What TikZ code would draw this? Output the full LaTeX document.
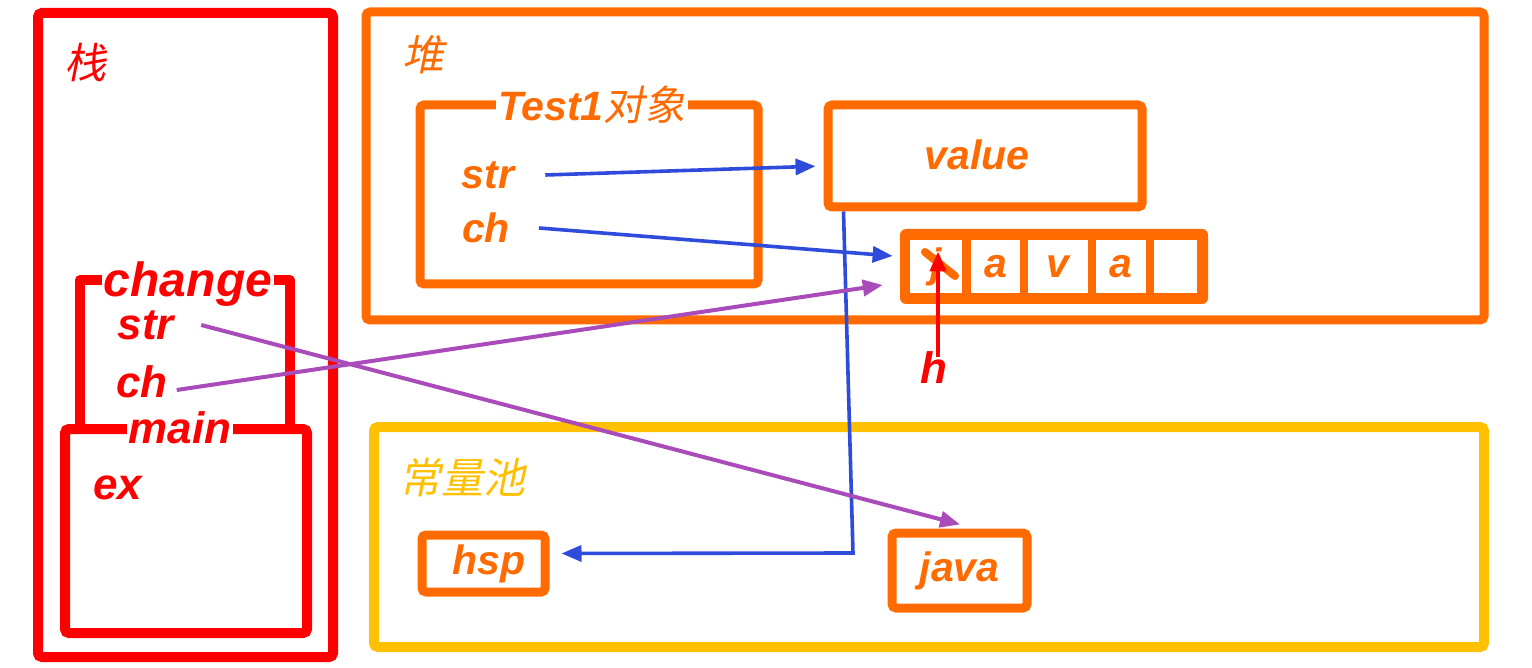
\documentclass[tikz,border=0pt]{standalone}
\usepackage{fontspec}
\setmainfont{Liberation Sans}
\newfontfamily\cjk[FakeSlant=0.2]{Noto Sans CJK SC}
\usepackage{tikz}
\usetikzlibrary{positioning}
\usetikzlibrary{arrows.meta}
\definecolor{stackred}{HTML}{FF0000}
\definecolor{heaporange}{HTML}{FF6B00}
\definecolor{poolyellow}{HTML}{FFC000}
\definecolor{refblue}{HTML}{2F4BDB}
\definecolor{refpurple}{HTML}{A94BB8}
\tikzset{x=0.5pt, y=-0.5pt,
every node/.style={ % Latin labels
font=\fontsize{20.5}{24}\selectfont\bfseries\itshape},
big/.style={font=\fontsize{22}{26}\selectfont\bfseries\itshape},
area/.style={ % memory areas
draw, line width=5pt, rounded corners=2pt, inner sep=0pt},
box/.style={ % objects in the heap and the pool
draw=heaporange, line width=4.5pt, rounded corners=2pt, inner sep=0pt},
title/.style={font=\cjk\fontsize{21}{25}\selectfont},
halo/.style={fill=white, inner sep=1pt},
ref/.style={ % references
line width=2pt, -{Triangle[length=10pt,width=8pt]}}}

\begin{document}
\begin{tikzpicture}
\useasboundingbox (0,0) rectangle (1532,668);
% areas
\node[area, draw=stackred, minimum width=147.5pt, minimum height=322pt] (stack) at (185.5,335) {};
\node[area, draw=heaporange, line width=4.5pt, minimum width=559pt, minimum height=154pt] (heap) at (925,166) {};
\node[area, draw=poolyellow, minimum width=555pt, minimum height=110pt] (pool) at (929,537) {};
\node[title, text=stackred] (stacklabel) at (85,63) {栈};
\node[title, text=heaporange] (heaplabel) at (423,55) {堆};
\node[title, text=poolyellow] (poollabel) at (462,478) {常量池};
% stack frames
\node[area, draw=stackred, minimum width=121pt, minimum height=102pt] (main) at (186,531) {};
\draw[stackred, line width=5pt, line join=round] ([xshift=10pt]main.north west) -- ++(0,-144) -| ([xshift=-11pt]main.north east);
\node[halo, big, text=stackred, font=\fontsize{24}{28}\selectfont\bfseries\itshape] (changelabel) at (188,284) {change};
\node[halo, big, text=stackred] (mainlabel) at (180,428) {main};
\node[big, text=stackred] (str2) at (146,325) {str};
\node[big, text=stackred] (ch2) at (142,382) {ch};
\node[big, text=stackred] (ex) at (118,488) {ex};
% heap
\node[box, minimum width=169pt, minimum height=89.5pt] (obj) at (589,194.5) {};
\node[halo, text=heaporange] (objlabel) at (592,105) {Test1{\cjk\mdseries\upshape 对象}};
\node[text=heaporange] (str1) at (488,175) {str};
\node[text=heaporange] (ch1) at (486,228) {ch};
\node[box, minimum width=157pt, minimum height=51pt] (value) at (985,156) {};
\node[text=heaporange] (valuetext) at (977,155) {value};
\node[fill=heaporange, rounded corners=3pt, minimum width=154pt, minimum height=37.5pt, inner sep=0pt] (arr) at (1054,266.5) {};
\foreach \x/\w/\t [count=\i] in {936/26pt/j, 995.5/24.5pt/a, 1058/30pt/v, 1121/25pt/a, 1175.5/21.5pt/{}}
  \node[fill=white, minimum width=\w, minimum height=26.5pt, inner sep=0pt, text=heaporange] (cell\i) at (\x,266.5) {\t};
\draw[heaporange, line width=4pt, line cap=round] (925,252) -- (955,276);
\node[big, text=stackred] (h) at (934,368) {h};
% pool
\node[box, minimum width=61.5pt, minimum height=28.5pt] (hsp) at (483.5,563.5) {};
\node[text=heaporange] (hsptext) at (489,564) {hsp};
\node[box, minimum width=67.5pt, minimum height=37.5pt, text=heaporange] (java) at (959.5,570.5) {java};
% references
\coordinate (turn) at (853,553);
\draw[ref, refblue, line width=1.8pt, shorten >=4pt] ([xshift=12pt]str1.east) -- ([yshift=-5pt]value.west);
\draw[ref, refblue, line width=1.8pt, shorten >=3.5pt] ([xshift=11pt]ch1.east) -- ([yshift=5pt]arr.west);
\draw[ref, refblue, line width=1.8pt, shorten >=6pt] ([xshift=10pt]value.south west) -- (turn) -- ([yshift=5pt]hsp.east);
\draw[ref, refpurple, shorten >=8pt] ([xshift=10pt]str2.east) -- ([xshift=8pt]java.north);
\draw[ref, refpurple, shorten >=8.5pt] ([xshift=1pt, yshift=-4pt]ch2.east) -- ([yshift=-8pt]arr.west);
\draw[ref, stackred, shorten <=-6pt, shorten >=-7.5pt] ([xshift=2pt]h.north) -- ([xshift=1pt]cell1.center);
\end{tikzpicture}
\end{document}
